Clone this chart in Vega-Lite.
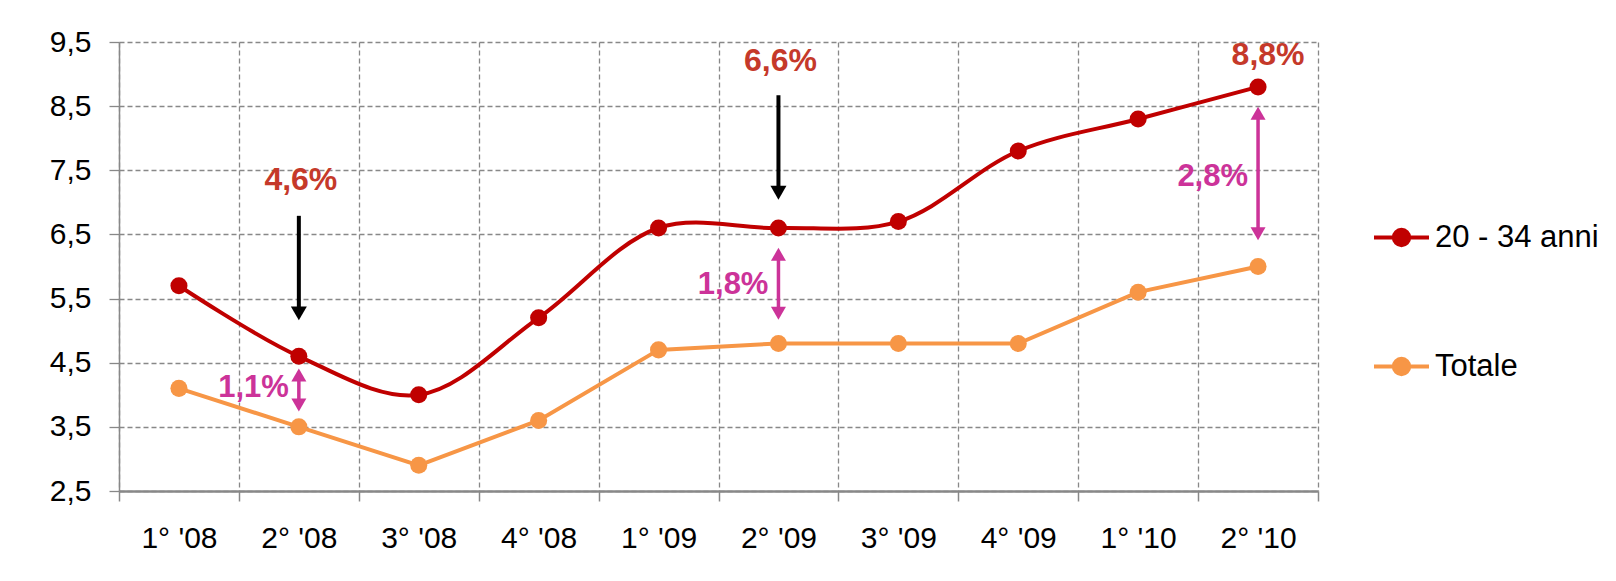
{
  "$schema": "https://vega.github.io/schema/vega-lite/v6.json",
  "width": 1199,
  "height": 449,
  "autosize": {"type": "none"},
  "padding": {"left": 119, "top": 42, "right": 298, "bottom": 90},
  "background": "white",
  "config": {"view": {"stroke": null}, "font": "Liberation Sans"},
  "datasets": {
    "series": [
      {"q": "1° '08", "s": "20 - 34 anni", "v": 5.7},
      {"q": "2° '08", "s": "20 - 34 anni", "v": 4.6},
      {"q": "3° '08", "s": "20 - 34 anni", "v": 4.0},
      {"q": "4° '08", "s": "20 - 34 anni", "v": 5.2},
      {"q": "1° '09", "s": "20 - 34 anni", "v": 6.6},
      {"q": "2° '09", "s": "20 - 34 anni", "v": 6.6},
      {"q": "3° '09", "s": "20 - 34 anni", "v": 6.7},
      {"q": "4° '09", "s": "20 - 34 anni", "v": 7.8},
      {"q": "1° '10", "s": "20 - 34 anni", "v": 8.3},
      {"q": "2° '10", "s": "20 - 34 anni", "v": 8.8},
      {"q": "1° '08", "s": "Totale", "v": 4.1},
      {"q": "2° '08", "s": "Totale", "v": 3.5},
      {"q": "3° '08", "s": "Totale", "v": 2.9},
      {"q": "4° '08", "s": "Totale", "v": 3.6},
      {"q": "1° '09", "s": "Totale", "v": 4.7},
      {"q": "2° '09", "s": "Totale", "v": 4.8},
      {"q": "3° '09", "s": "Totale", "v": 4.8},
      {"q": "4° '09", "s": "Totale", "v": 4.8},
      {"q": "1° '10", "s": "Totale", "v": 5.6},
      {"q": "2° '10", "s": "Totale", "v": 6.0}
    ],
    "black": [
      {"q": "2° '08", "top": 6.79, "head": 5.27},
      {"q": "2° '09", "top": 8.67, "head": 7.15}
    ],
    "redlab": [
      {"q": "2° '08", "ly": 7.35, "lab": "4,6%"},
      {"q": "2° '09", "ly": 9.2, "lab": "6,6%"},
      {"q": "2° '10", "ly": 9.3, "lab": "8,8%"}
    ],
    "pink": [
      {"q": "2° '08", "up": 4.31, "down": 3.84, "ly": 4.11, "lab": "1,1%"},
      {"q": "2° '09", "up": 6.19, "down": 5.27, "ly": 5.71, "lab": "1,8%"},
      {"q": "2° '10", "up": 8.39, "down": 6.51, "ly": 7.4, "lab": "2,8%"}
    ]
  },
  "encoding": {
    "x": {
      "field": "q", "type": "ordinal", "title": null,
      "scale": {"domain": ["1° '08", "2° '08", "3° '08", "4° '08", "1° '09", "2° '09", "3° '09", "4° '09", "1° '10", "2° '10"], "paddingInner": 0, "paddingOuter": 0},
      "axis": {
        "tickBand": "extent", "labelAngle": 0, "labelFont": "Liberation Sans", "labelFontSize": 30,
        "labelColor": "#000", "labelPadding": 22, "tickSize": 10, "tickColor": "#888", "tickWidth": 1.5,
        "domainColor": "#888", "domainWidth": 2.5, "grid": true, "gridColor": "#888",
        "gridDash": [5, 3], "gridWidth": 1.3
      }
    },
    "y": {
      "field": "v", "type": "quantitative", "title": null,
      "scale": {"domain": [2.5, 9.5], "nice": false, "zero": false},
      "axis": {
        "values": [2.5, 3.5, 4.5, 5.5, 6.5, 7.5, 8.5, 9.5],
        "labelExpr": "replace(format(datum.value, '.1f'), '.', ',')",
        "labelFont": "Liberation Sans", "labelFontSize": 30, "labelColor": "#000", "labelPadding": 18,
        "tickSize": 10, "tickColor": "#888", "tickWidth": 1.3,
        "domainColor": "#888", "domainWidth": 1.5,
        "grid": true, "gridColor": "#888", "gridDash": [5, 3], "gridWidth": 1.3
      }
    }
  },
  "layer": [
    {
      "data": {"name": "series"},
      "transform": [{"filter": "datum.s === '20 - 34 anni'"}],
      "mark": {"type": "line", "interpolate": "catmull-rom", "strokeWidth": 4},
      "encoding": {
        "color": {
          "field": "s", "type": "nominal",
          "scale": {"domain": ["20 - 34 anni", "Totale"], "range": ["#C00000", "#F79646"]},
          "legend": {
            "title": null, "orient": "none", "legendX": 1253, "legendY": 166, "padding": 0,
            "symbolType": "M-1,0L1,0M-0.28,0A0.28,0.28,0,1,0,0.28,0A0.28,0.28,0,1,0,-0.28,0Z",
            "symbolSize": 3025, "symbolStrokeWidth": 4,
            "labelFontSize": 31, "labelColor": "#000", "labelFont": "Liberation Sans", "labelLimit": 400,
            "rowPadding": 83, "labelOffset": 4,
            "encode": {"symbols": {"update": {
              "fill": {"scale": "color", "field": "value"},
              "stroke": {"scale": "color", "field": "value"},
              "opacity": {"value": 1}
            }}}
          }
        }
      }
    },
    {
      "data": {"name": "series"},
      "transform": [{"filter": "datum.s === 'Totale'"}],
      "mark": {"type": "line", "strokeWidth": 4},
      "encoding": {"color": {"field": "s", "type": "nominal"}}
    },
    {
      "data": {"name": "series"},
      "mark": {"type": "point", "shape": "circle", "filled": true, "size": 290, "opacity": 1},
      "encoding": {"color": {"field": "s", "type": "nominal"}}
    },
    {
      "data": {"name": "black"},
      "mark": {"type": "rule", "color": "#000", "strokeWidth": 4},
      "encoding": {"y": {"field": "top", "type": "quantitative", "title": null}, "y2": {"field": "head"}}
    },
    {
      "data": {"name": "black"},
      "mark": {"type": "point", "shape": "triangle-down", "filled": true, "size": 256, "color": "#000", "opacity": 1},
      "encoding": {"y": {"field": "head", "type": "quantitative", "title": null}}
    },
    {
      "data": {"name": "redlab"},
      "transform": [{"filter": "datum.lab !== '8,8%'"}],
      "mark": {"type": "text", "font": "Liberation Sans", "fontWeight": "bold", "fontSize": 32, "color": "#C5392A", "baseline": "middle", "align": "center", "dx": 2},
      "encoding": {"y": {"field": "ly", "type": "quantitative", "title": null}, "text": {"field": "lab"}}
    },
    {
      "data": {"name": "redlab"},
      "transform": [{"filter": "datum.lab === '8,8%'"}],
      "mark": {"type": "text", "font": "Liberation Sans", "fontWeight": "bold", "fontSize": 32, "color": "#C5392A", "baseline": "middle", "align": "center", "dx": 10},
      "encoding": {"y": {"field": "ly", "type": "quantitative", "title": null}, "text": {"field": "lab"}}
    },
    {
      "data": {"name": "pink"},
      "mark": {"type": "rule", "color": "#CC3399", "strokeWidth": 3.5},
      "encoding": {"y": {"field": "up", "type": "quantitative", "title": null}, "y2": {"field": "down"}}
    },
    {
      "data": {"name": "pink"},
      "mark": {"type": "point", "shape": "triangle-up", "filled": true, "size": 225, "color": "#CC3399", "opacity": 1},
      "encoding": {"y": {"field": "up", "type": "quantitative", "title": null}}
    },
    {
      "data": {"name": "pink"},
      "mark": {"type": "point", "shape": "triangle-down", "filled": true, "size": 225, "color": "#CC3399", "opacity": 1},
      "encoding": {"y": {"field": "down", "type": "quantitative", "title": null}}
    },
    {
      "data": {"name": "pink"},
      "mark": {"type": "text", "font": "Liberation Sans", "fontWeight": "bold", "fontSize": 31, "color": "#CC3399", "baseline": "middle", "align": "right", "dx": -10},
      "encoding": {"y": {"field": "ly", "type": "quantitative", "title": null}, "text": {"field": "lab"}}
    }
  ]
}
